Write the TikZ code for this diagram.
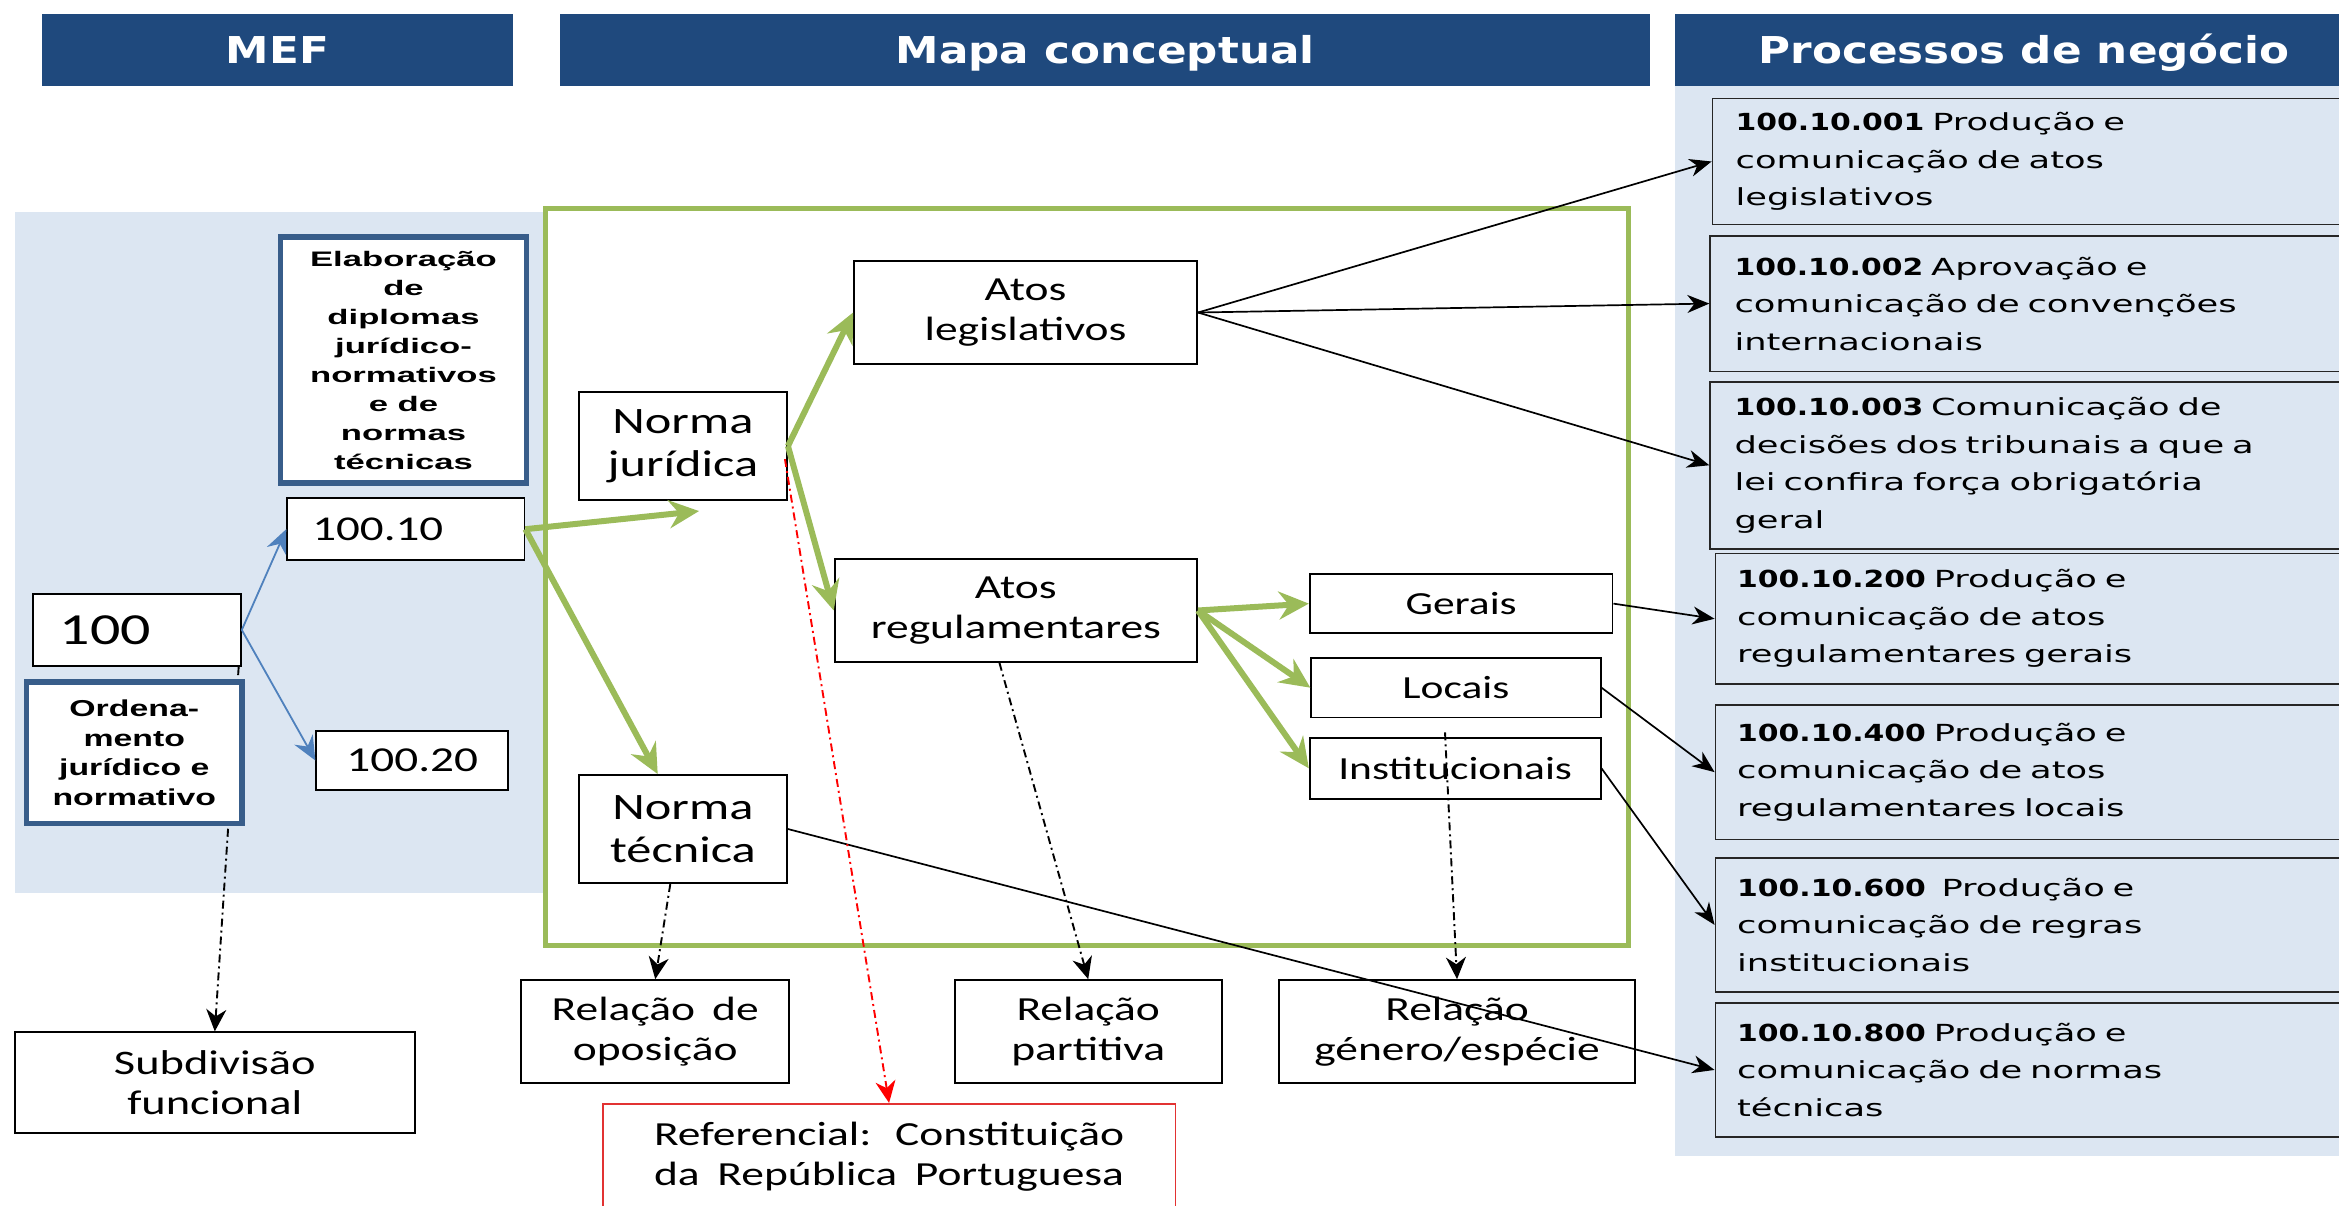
\documentclass[tikz,border=0pt]{standalone}
\usepackage{fontspec}
\usetikzlibrary{arrows.meta,calc}

% Typefaces (widened to the proportions used in the slide)
\newfontfamily\hdrfont[FakeStretch=1.18]{DejaVu Sans}
\newfontfamily\procfont[FakeStretch=1.5]{DejaVu Sans}
\newfontfamily\procbold[FakeStretch=1.27]{DejaVu Sans}
\newfontfamily\calfont[FakeStretch=1.35]{Carlito}
\newfontfamily\elabfont[FakeStretch=1.65]{Liberation Sans}
\newfontfamily\ordfont[FakeStretch=1.47]{Liberation Sans}
% process code in bold
\newcommand\pcode[1]{{\procbold\bfseries #1}}

\definecolor{hdrblue}{RGB}{31,73,125}
\definecolor{paleblue}{RGB}{220,230,242}
\definecolor{olive}{RGB}{155,187,89}
\definecolor{frameblue}{RGB}{56,93,138}
\definecolor{linkblue}{RGB}{79,129,189}
\definecolor{refred}{RGB}{226,50,50}

\tikzset{
  % a rectangle given by its two corners (x1,y1) (x2,y2)
  span/.style n args={4}{at={({(#1+#3)/2},{(#2+#4)/2})},
    minimum width={(#3-#1)*1.4917pt}, minimum height={(#4-#2)*1.4917pt}},
  hdr/.style={fill=hdrblue, inner sep=0pt, text=white, text height=27pt, text depth=0pt,
    font=\hdrfont\bfseries\fontsize{37pt}{44pt}\selectfont},
  box/.style={draw=black, line width=1.8pt, fill=white, inner sep=0pt, align=center},
  cal/.style={box, font=\calfont\fontsize{33.7pt}{40pt}\selectfont},
  calnorm/.style={box, font=\calfont\fontsize{37.3pt}{43pt}\selectfont},
  calsmall/.style={box, font=\calfont\fontsize{32.2pt}{40pt}\selectfont},
  mefbox/.style={draw=frameblue, line width=5.8pt, fill=white, inner sep=0pt, align=center},
  proc/.style={draw=black!85, line width=1.8pt, fill=paleblue, inner sep=0pt,
    align=left, text width=628pt, font=\procfont\fontsize{23.5pt}{37.5pt}\selectfont},
  greenarrow/.style={olive, line width=6pt,
    -{Stealth[length=30pt,width=28pt,inset=10pt]}},
  blackarrow/.style={black, line width=1.7pt,
    -{Stealth[length=22pt,width=18pt,inset=7pt]}},
  bluearrow/.style={linkblue, line width=1.8pt,
    -{Stealth[length=24pt,width=21pt,inset=8pt]}},
  dashdotarrow/.style={black, line width=1.9pt,
    dash pattern=on 8pt off 4pt on 2pt off 4pt,
    -{Stealth[length=22pt,width=20pt,inset=7pt]}},
  redarrow/.style={red, line width=1.9pt,
    dash pattern=on 8pt off 4pt on 2pt off 4pt,
    -{Stealth[length=22pt,width=20pt,inset=7pt]}},
}

\begin{document}
\begin{tikzpicture}[x=1.4917pt, y=-1.4917pt]
\useasboundingbox (0,0) rectangle (1568,808);
\fill[white] (0,0) rectangle (1568,808);

% background panels
\fill[paleblue] (10,142) rectangle (366,598.4);
\fill[paleblue] (1123,57.4) rectangle (1600,775);

% column headers
\node[hdr, span={28}{9.4}{344}{57.4}] (hmef) {MEF};
\node[hdr, span={375.6}{9.4}{1106}{57.4}] (hmapa) {Mapa conceptual};
\node[hdr, span={1123}{9.4}{1591}{57.4}] (hproc) {Processos de negócio};

% concept map frame
\draw[olive, line width=5pt] (366,140) rectangle (1092,633.5);

% MEF column
\node[cal, align=left, text width=154pt, font=\calfont\fontsize{44.4pt}{50pt}\selectfont,
  span={22}{398}{161.5}{446.6}] (n100) {100};
\node[cal, span={10}{692}{278}{759.6}, font=\calfont\fontsize{34.4pt}{40pt}\selectfont]
  (subdiv) {Subdivisão\\funcional};
\draw[dashdotarrow] ($(n100.south west)!0.985!(n100.south east)$) -- (subdiv.north);
\node[mefbox, span={17.8}{457}{162.2}{552}, font=\ordfont\bfseries\fontsize{23pt}{29.5pt}\selectfont]
  (orden) {Ordena-\\mento\\jurídico e\\normativo};
\node[mefbox, span={188}{158.7}{353}{324}, font=\elabfont\bfseries\fontsize{21pt}{29pt}\selectfont]
  (elab) {Elaboração\\de\\diplomas\\jurídico-\\normativos\\e de\\normas\\técnicas};
\node[cal, align=left, text width=187pt, font=\calfont\fontsize{34.8pt}{40pt}\selectfont,
  span={192.5}{334}{351.6}{375.5}] (n10) {100.10};
\node[cal, font=\calfont\fontsize{35pt}{40pt}\selectfont,
  span={212}{490}{340.7}{529.6}] (n20) {100.20};

\draw[bluearrow] (n100.east) -- (n10.west);
\draw[bluearrow] (n100.east) -- (n20.west);

% concept map
\node[calnorm, span={388}{263}{527.6}{335}] (njur) {Norma\\jurídica};
\node[calnorm, span={388}{519.5}{527.6}{592}] (ntec) {Norma\\técnica};
\node[cal, span={572.5}{175}{802.5}{244}] (aleg) {Atos\\legislativos};
\node[cal, span={559.5}{374.7}{802.5}{443.8}] (areg) {Atos\\regulamentares};
\node[calsmall, span={878}{384.8}{1081}{424.5}] (gerais) {Gerais};
\node[calsmall, span={879}{441}{1073}{481}] (locais) {Locais};
\node[calsmall, span={878}{494.5}{1073}{535.6}] (inst) {Institucionais};

% kinds of relation
\node[cal, span={349.5}{657}{529}{726}] (ropos) {\makebox[207pt][s]{Relação de}\\oposição};
\node[cal, span={640}{657}{819}{726}] (rpart) {Relação\\partitiva};
\node[cal, span={857.5}{657}{1096}{726}] (rgen) {Relação\\género/espécie};
\node[cal, draw=refred, span={404}{740}{788}{811}] (refer)
  {\makebox[470pt][s]{Referencial: Constituição}\\\makebox[470pt][s]{da República Portuguesa}};

% business processes
\node[proc, span={1148}{66}{1600}{150.5}] (p001)
  {\pcode{100.10.001} Produção e\\comunicação de atos\\legislativos};
\node[proc, span={1146.5}{158}{1600}{249}] (p002)
  {\pcode{100.10.002} Aprovação e\\comunicação de convenções\\internacionais};
\node[proc, span={1146.5}{256}{1600}{367.8}] (p003)
  {\pcode{100.10.003} Comunicação de\\decisões dos tribunais a que a\\lei confira força obrigatória\\geral};
\node[proc, span={1150}{371}{1600}{458.6}] (p200)
  {\pcode{100.10.200} Produção e\\comunicação de atos\\regulamentares gerais};
\node[proc, span={1150}{472.4}{1600}{562.8}] (p400)
  {\pcode{100.10.400} Produção e\\comunicação de atos\\regulamentares locais};
\node[proc, span={1150}{575}{1600}{665}] (p600)
  {\pcode{100.10.600}\ \ Produção e\\comunicação de regras\\institucionais};
\node[proc, span={1150}{672.5}{1600}{762}] (p800)
  {\pcode{100.10.800} Produção e\\comunicação de normas\\técnicas};

% loose ends
\coordinate (njtip) at ($(njur.south)+(10.8,7)$);
\coordinate (genstart) at (968.7,491);
\coordinate (redstart) at ($(njur.north east)!0.62!(njur.south east)+(-2,0)$);

% hierarchy (green)
\draw[greenarrow] (n10.east) -- (njtip);
\draw[greenarrow] (n10.east) -- ($(ntec.north west)!0.38!(ntec.north east)$);
\draw[greenarrow] (njur.east) -- (aleg.west);
\draw[greenarrow] (njur.east) -- (areg.west);
\draw[greenarrow] (areg.east) -- (gerais.west);
\draw[greenarrow] (areg.east) -- (locais.west);
\draw[greenarrow] (areg.east) -- (inst.west);

% links to processes
\draw[blackarrow] (aleg.east) -- (p001.west);
\draw[blackarrow] (aleg.east) -- (p002.west);
\draw[blackarrow] (aleg.east) -- (p003.west);
\draw[blackarrow] (gerais.east) -- (p200.west);
\draw[blackarrow] (locais.east) -- (p400.west);
\draw[blackarrow] (inst.east) -- (p600.west);
\draw[blackarrow] (ntec.east) -- (p800.west);

% relation types
\draw[dashdotarrow] ($(ntec.south west)!0.44!(ntec.south east)$) -- (ropos.north);
\draw[dashdotarrow] ($(areg.south west)!0.455!(areg.south east)$) -- (rpart.north);
\draw[dashdotarrow] (genstart) -- (rgen.north);
\draw[redarrow] (redstart) -- (refer.north);
\end{tikzpicture}
\end{document}
